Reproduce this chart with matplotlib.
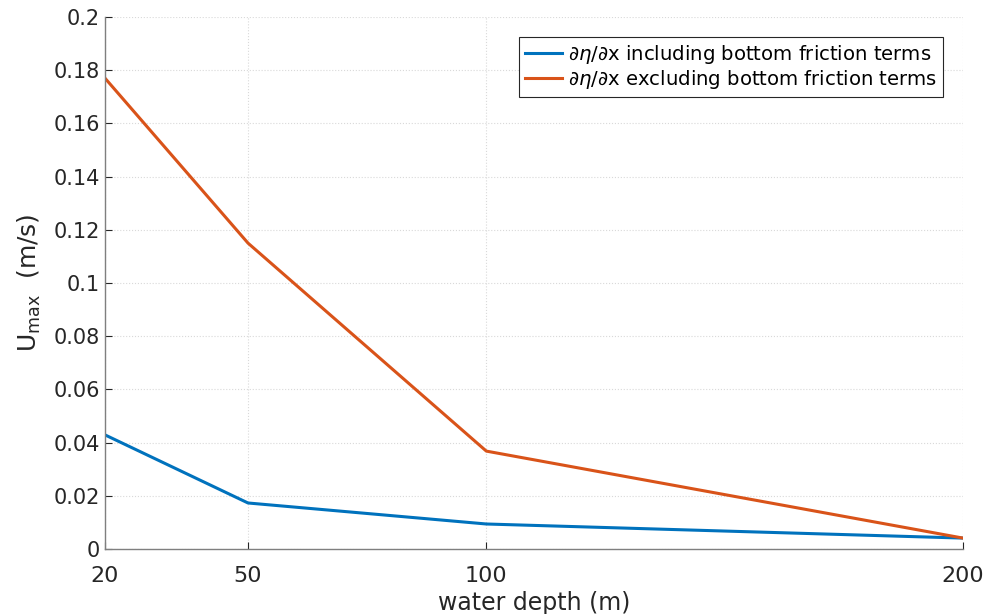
import matplotlib.pyplot as plt
import numpy as np

depth = [20, 50, 100, 200]
u_incl = [0.0429, 0.0173, 0.0094, 0.0041]
u_excl = [0.177, 0.115, 0.0368, 0.0041]

W, H = 987, 614
fig = plt.figure(figsize=(W / 100, H / 100), dpi=100)
ax = fig.add_axes([105 / W, 1 - 549 / H, (963 - 105) / W, (549 - 17) / H])

ax.plot(depth, u_incl, color='#0072BD', linewidth=2.2,
        label=r'$\partial\eta/\partial$x including bottom friction terms')
ax.plot(depth, u_excl, color='#D95319', linewidth=2.2,
        label=r'$\partial\eta/\partial$x excluding bottom friction terms')

ax.set_xlim(20, 200)
ax.set_ylim(0, 0.2)
ax.set_xticks(depth)
ax.set_yticks(np.arange(0, 0.201, 0.02))
ax.set_yticklabels(['0', '0.02', '0.04', '0.06', '0.08', '0.1', '0.12',
                    '0.14', '0.16', '0.18', '0.2'])
ax.tick_params(direction='in', length=5, color='#262626', labelcolor='#262626',
               labelsize=15, width=0.8)
ax.tick_params(axis='x', pad=12, labelsize=16)
ax.grid(True, color='#d9d9d9', linestyle=':', linewidth=0.8)
ax.set_axisbelow(True)
for s in ['top', 'right']:
    ax.spines[s].set_visible(False)
for s in ['left', 'bottom']:
    ax.spines[s].set_color('#7f7f7f')
    ax.spines[s].set_linewidth(1.0)

ax.set_xlabel('water depth (m)', fontsize=17, color='#262626', labelpad=4)
ax.set_ylabel(r'U$_{\mathregular{max}}$  (m/s)', fontsize=18, color='#262626', labelpad=8)

leg = ax.legend(loc='upper right', bbox_to_anchor=(0.977, 0.963), fontsize=14.1,
                fancybox=False, framealpha=1, edgecolor='#262626',
                handlelength=1.9, borderpad=0.3, labelspacing=0.12,
                handletextpad=0.3, borderaxespad=0)
leg.get_frame().set_linewidth(0.8)

fig.savefig('out.png', dpi=100)
